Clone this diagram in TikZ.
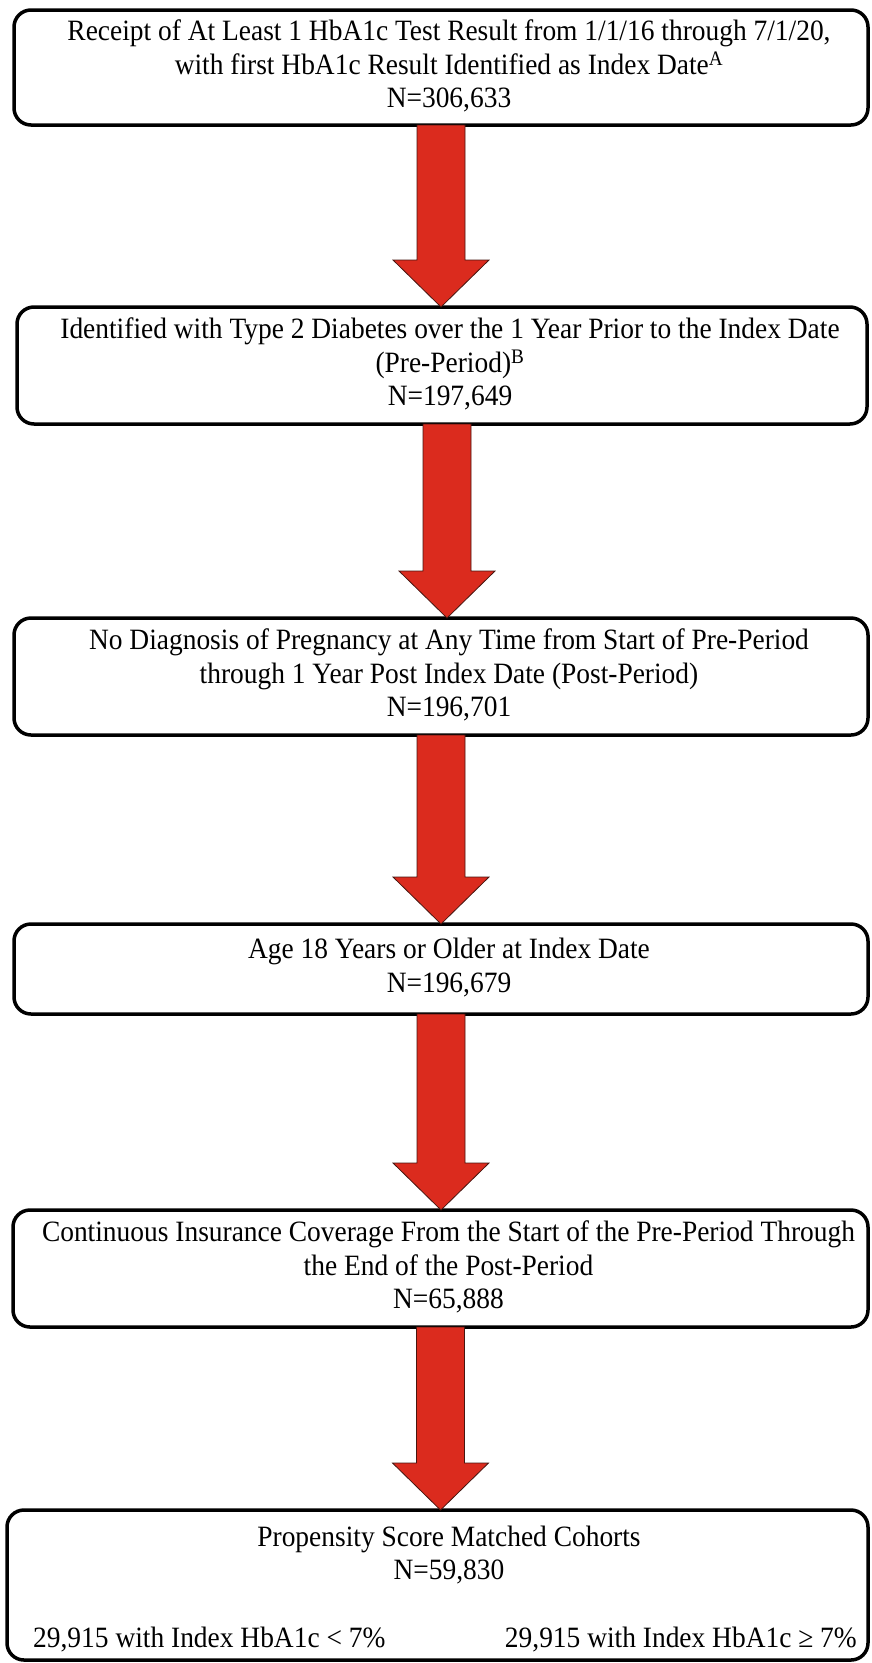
\documentclass[tikz,border=0pt]{standalone}
\usepackage{fontspec}
\setmainfont[FakeStretch=0.93]{Liberation Serif}
\usetikzlibrary{calc}
\definecolor{arrowred}{RGB}{219,43,30}
\definecolor{arrowedge}{RGB}{70,22,16}
\newcommand{\steplines}[1]{\hspace{16pt}\begin{tabular}{@{}c@{}}#1\end{tabular}}
\tikzset{
  stepbox/.style={draw=black, line width=3.5pt, rounded corners=17pt, inner sep=0pt, outer sep=0pt,
    minimum width=854pt, font=\fontsize{29.5}{33.5}\selectfont},
  steptext/.style={inner sep=0pt, font=\fontsize{29.5}{33.5}\selectfont},
  bigarrow/.style={fill=arrowred, draw=arrowedge, line width=0.8pt,
    to path={let \p1=(\tikztostart), \p2=(\tikztotarget) in
      (\x1-24pt,\y1) -- (\x1+24pt,\y1) -- (\x1+24pt,\y2+47pt) -- (\x1+48pt,\y2+47pt)
      -- (\x1,\y2) -- (\x1-48pt,\y2+47pt) -- (\x1-24pt,\y2+47pt) -- cycle}}
}
\begin{document}
\begin{tikzpicture}[x=1pt, y=-1pt]
  \useasboundingbox (0,0) rectangle (871,1663);
  % inclusion steps
  \node[stepbox, minimum height=115pt] (hba1c) at (441,67.5) {\steplines{Receipt of At Least 1 HbA1c Test Result from 1/1/16 through 7/1/20,\\ with first HbA1c Result Identified as Index Date\textsuperscript{A}\\ N=306,633}};
  \node[stepbox, minimum width=850pt, minimum height=117pt] (diabetes) at (442,365.5) {\steplines{Identified with Type 2 Diabetes over the 1 Year Prior to the Index Date\\ (Pre-Period)\textsuperscript{B}\\ N=197,649}};
  \node[stepbox, minimum height=117pt] (pregnancy) at (441,676.5) {\steplines{No Diagnosis of Pregnancy at Any Time from Start of Pre-Period\\ through 1 Year Post Index Date (Post-Period)\\ N=196,701}};
  \node[stepbox, minimum height=90pt] (adult) at (441,969) {\steplines{Age 18 Years or Older at Index Date\\ N=196,679}};
  \node[stepbox, minimum width=855pt, minimum height=117pt] (coverage) at (440.5,1268.5) {\steplines{Continuous Insurance Coverage From the Start of the Pre-Period Through\\ the End of the Post-Period\\ N=65,888}};
  \node[stepbox, minimum width=861pt, minimum height=150pt] (matched) at (437.5,1585) {};
  \node[steptext, align=center] (cohorts) at (449,1555) {Propensity Score Matched Cohorts\\N=59,830};
  \node[steptext, anchor=west] (lowgroup) at (33,1640) {29,915 with Index HbA1c < 7\%};
  \node[steptext, anchor=east] (highgroup) at (857,1640) {29,915 with Index HbA1c ≥ 7\%};
  % arrows
  \draw[bigarrow] (hba1c.south) to (diabetes.north);
  \draw[bigarrow] ([xshift=5pt]diabetes.south) to ([xshift=5pt]pregnancy.north);
  \draw[bigarrow] (pregnancy.south) to (adult.north);
  \draw[bigarrow] (adult.south) to (coverage.north);
  \draw[bigarrow] (coverage.south) to (matched.north);
\end{tikzpicture}
\end{document}
